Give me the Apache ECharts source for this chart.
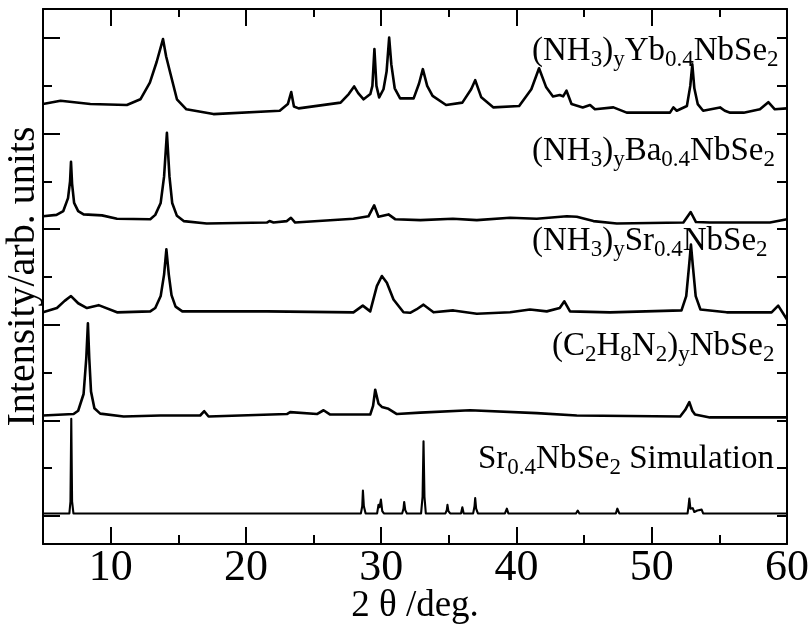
<!DOCTYPE html>
<html>
<head>
<meta charset="utf-8">
<script src="https://cdn.jsdelivr.net/npm/echarts@6/dist/echarts.min.js"></script>
<style>
  html, body { margin: 0; padding: 0; background: #fff; }
  #chart { width: 811px; height: 624px; }
</style>
</head>
<body>
<div id="chart"></div>
<script>
// patterns, [2theta, offset intensity]
const ybData = [[5.0, 8.62], [6.3, 8.69], [8.5, 8.62], [11.2, 8.6], [12.2, 8.72], [12.9, 9.07], [13.4, 9.5], [13.87, 9.98], [14.1, 9.62], [14.4, 9.28], [14.9, 8.72], [15.6, 8.51], [17.6, 8.41], [22.5, 8.48], [23.1, 8.62], [23.35, 8.87], [23.55, 8.57], [23.9, 8.53], [27.0, 8.65], [27.6, 8.83], [28.0, 8.99], [28.3, 8.85], [28.7, 8.72], [29.2, 8.83], [29.35, 9.0], [29.5, 9.77], [29.65, 9.0], [29.85, 8.76], [30.17, 8.93], [30.4, 9.3], [30.59, 10.01], [30.75, 9.45], [31.0, 8.95], [31.4, 8.74], [32.4, 8.74], [32.8, 9.05], [33.08, 9.35], [33.4, 9.0], [33.8, 8.79], [34.8, 8.6], [36.0, 8.65], [36.65, 8.93], [36.95, 9.12], [37.4, 8.76], [38.3, 8.55], [40.2, 8.58], [41.1, 8.93], [41.67, 9.37], [42.2, 8.97], [42.7, 8.78], [43.2, 8.81], [43.45, 8.78], [43.7, 8.9], [44.07, 8.62], [44.9, 8.55], [45.44, 8.6], [45.8, 8.51], [47.17, 8.55], [48.15, 8.44], [51.35, 8.44], [51.6, 8.55], [51.85, 8.48], [52.6, 8.58], [52.85, 9.0], [53.0, 9.45], [53.15, 8.95], [53.4, 8.62], [53.8, 8.48], [55.05, 8.55], [55.4, 8.48], [55.8, 8.44], [56.8, 8.44], [58.0, 8.51], [58.62, 8.66], [59.1, 8.51], [60.0, 8.53]];
const baData = [[5.0, 6.27], [6.0, 6.3], [6.5, 6.38], [6.85, 6.65], [7.0, 7.0], [7.07, 7.41], [7.15, 6.95], [7.3, 6.55], [7.6, 6.38], [8.0, 6.31], [9.36, 6.29], [10.47, 6.22], [12.93, 6.21], [13.3, 6.3], [13.7, 6.55], [13.95, 7.1], [14.16, 8.02], [14.35, 7.1], [14.55, 6.55], [14.9, 6.28], [15.4, 6.17], [17.1, 6.12], [21.55, 6.14], [21.74, 6.17], [22.04, 6.14], [23.03, 6.17], [23.33, 6.24], [23.64, 6.14], [27.95, 6.22], [29.06, 6.27], [29.48, 6.5], [29.8, 6.26], [30.54, 6.31], [31.03, 6.21], [32.9, 6.19], [35.3, 6.22], [37.07, 6.19], [39.53, 6.24], [41.5, 6.22], [43.72, 6.27], [44.46, 6.26], [45.69, 6.17], [47.42, 6.12], [52.34, 6.14], [52.88, 6.36], [53.27, 6.15], [54.3, 6.14], [58.74, 6.14], [60.0, 6.21]];
const srData = [[5.0, 4.26], [6.03, 4.35], [6.6, 4.5], [7.07, 4.6], [7.6, 4.45], [8.25, 4.35], [9.11, 4.41], [10.47, 4.26], [12.93, 4.28], [13.3, 4.35], [13.7, 4.6], [13.95, 5.05], [14.12, 5.58], [14.3, 5.05], [14.5, 4.62], [14.8, 4.38], [15.3, 4.28], [21.55, 4.28], [27.95, 4.26], [28.64, 4.40], [29.19, 4.28], [29.68, 4.81], [30.05, 5.02], [30.42, 4.88], [30.91, 4.53], [31.65, 4.26], [32.14, 4.25], [32.6, 4.32], [33.13, 4.42], [33.87, 4.26], [35.34, 4.3], [37.07, 4.23], [39.53, 4.26], [41.0, 4.32], [42.24, 4.28], [43.2, 4.35], [43.54, 4.49], [43.96, 4.28], [46.91, 4.26], [52.2, 4.3], [52.55, 4.6], [52.75, 5.2], [52.9, 5.68], [53.05, 5.2], [53.25, 4.6], [53.6, 4.32], [55.54, 4.26], [58.86, 4.26], [59.35, 4.40], [60.0, 4.11]];
const enData = [[5.0, 2.10], [7.26, 2.13], [7.6, 2.2], [8.0, 2.55], [8.2, 3.3], [8.32, 4.03], [8.42, 3.3], [8.55, 2.6], [8.8, 2.25], [9.23, 2.14], [10.96, 2.08], [13.67, 2.10], [16.62, 2.10], [16.92, 2.19], [17.24, 2.08], [23.03, 2.13], [23.27, 2.17], [25.25, 2.13], [25.74, 2.21], [26.23, 2.12], [29.19, 2.12], [29.4, 2.3], [29.56, 2.64], [29.8, 2.35], [30.05, 2.28], [30.54, 2.24], [31.16, 2.13], [32.88, 2.16], [36.57, 2.21], [41.5, 2.15], [44.46, 2.10], [52.1, 2.08], [52.48, 2.22], [52.78, 2.38], [53.0, 2.2], [53.2, 2.12], [54.3, 2.06], [60.0, 2.06]];
const simData = [[5.0, 0.05], [6.95, 0.05], [7.03, 0.3], [7.09, 2.03], [7.15, 0.3], [7.25, 0.05], [21.35, 0.05], [21.43, 0.09], [21.5, 0.05], [28.5, 0.05], [28.6, 0.2], [28.65, 0.53], [28.72, 0.2], [28.85, 0.05], [29.7, 0.05], [29.8, 0.23], [29.88, 0.18], [29.98, 0.34], [30.08, 0.1], [30.2, 0.05], [31.55, 0.05], [31.65, 0.15], [31.7, 0.29], [31.78, 0.12], [31.9, 0.05], [32.95, 0.05], [33.06, 0.4], [33.13, 1.56], [33.2, 0.4], [33.3, 0.05], [34.75, 0.05], [34.85, 0.12], [34.9, 0.23], [34.97, 0.1], [35.1, 0.05], [35.9, 0.05], [36.0, 0.18], [36.1, 0.05], [36.8, 0.05], [36.9, 0.2], [36.95, 0.37], [37.02, 0.15], [37.15, 0.05], [39.15, 0.05], [39.29, 0.15], [39.4, 0.05], [41.7, 0.05], [41.8, 0.08], [41.9, 0.05], [44.4, 0.05], [44.53, 0.11], [44.65, 0.05], [47.35, 0.05], [47.46, 0.15], [47.6, 0.05], [50.4, 0.05], [50.49, 0.09], [50.6, 0.05], [52.65, 0.05], [52.72, 0.2], [52.78, 0.36], [52.86, 0.15], [53.03, 0.16], [53.15, 0.08], [53.37, 0.11], [53.5, 0.08], [53.69, 0.13], [53.8, 0.05], [56.9, 0.05], [57.02, 0.08], [57.15, 0.05], [60.0, 0.05]];

const xMajor = [10, 20, 30, 40, 50, 60];
const xMinor = [15, 25, 35, 45, 55];
const yMajor = [0, 2, 4, 6, 8, 10];
const yMinor = [1, 3, 5, 7, 9];
const yAll = [0, 1, 2, 3, 4, 5, 6, 7, 8, 9, 10];

const FONT = 'Liberation Serif, Times New Roman, serif';
const X_MIN = 5, X_MAX = 60, Y_MIN = -0.59, Y_MAX = 10.61;

const chart = echarts.init(document.getElementById('chart'), null, { renderer: 'canvas' });

function xAx(pos, ticks, len, showLine, label) {
  return {
    type: 'value', position: pos, min: X_MIN, max: X_MAX,
    axisLine: { show: showLine, onZero: false, lineStyle: { color: '#000', width: 2 } },
    axisTick: { show: true, inside: true, length: len, customValues: ticks, lineStyle: { color: '#000', width: 2 } },
    axisLabel: label ? { show: true, customValues: ticks, color: '#000', fontSize: 44, fontFamily: FONT, margin: 2 } : { show: false },
    splitLine: { show: false }
  };
}
function yAx(pos, ticks, len, showLine) {
  return {
    type: 'value', position: pos, min: Y_MIN, max: Y_MAX,
    axisLine: { show: showLine, onZero: false, lineStyle: { color: '#000', width: 2 } },
    axisTick: { show: true, inside: true, length: len, customValues: ticks, lineStyle: { color: '#000', width: 2 } },
    axisLabel: { show: false },
    splitLine: { show: false }
  };
}

const xBottom = xAx('bottom', xMajor, 17, true, true);
xBottom.name = '2 θ /deg.';
xBottom.nameLocation = 'middle';
xBottom.nameGap = 44;
xBottom.nameMoveOverlap = false;
xBottom.nameTextStyle = { color: '#000', fontSize: 37, fontFamily: FONT };

const yLeft = yAx('left', yMajor, 17, true);
yLeft.name = 'Intensity/arb. units';
yLeft.nameLocation = 'middle';
yLeft.nameGap = 0;
yLeft.nameMoveOverlap = false;
yLeft.nameTextStyle = { color: '#000', fontSize: 40, fontFamily: FONT };

function line(data, w) {
  return {
    type: 'line', data: data, xAxisIndex: 0, yAxisIndex: 0,
    showSymbol: false, symbol: 'none', smooth: false,
    lineStyle: { color: '#000', width: w, join: 'round' }, silent: true
  };
}

const rich = {
  m: { fontSize: 33, lineHeight: 33, fontFamily: FONT, fill: '#000', verticalAlign: 'top' },
  s: { fontSize: 23, lineHeight: 23, fontFamily: FONT, fill: '#000', verticalAlign: 'top', padding: [14, 0, 0, 0] }
};
function label(x, baseline, text) {
  return { type: 'text', x: x, y: baseline - 27.6, style: { text: text, rich: rich, fill: '#000', align: 'left', verticalAlign: 'top' } };
}

chart.setOption({
  animation: false,
  backgroundColor: '#fff',
  grid: { left: 43, right: 24, top: 9, bottom: 80, containLabel: false, outerBoundsMode: 'none' },
  xAxis: [xBottom, xAx('bottom', xMinor, 9, false, false), xAx('top', xMajor, 17, true, false), xAx('top', xMinor, 8, false, false)],
  yAxis: [yLeft, yAx('left', yMinor, 9, false), yAx('right', yAll, 10, true)],
  series: [line(ybData, 2.6), line(baData, 2.6), line(srData, 2.6), line(enData, 2.6), line(simData, 2.1)],
  graphic: [
    label(532, 62, '{m|(NH}{s|3}{m|)}{s|y}{m|Yb}{s|0.4}{m|NbSe}{s|2}'),
    label(532, 162, '{m|(NH}{s|3}{m|)}{s|y}{m|Ba}{s|0.4}{m|NbSe}{s|2}'),
    label(532, 252, '{m|(NH}{s|3}{m|)}{s|y}{m|Sr}{s|0.4}{m|NbSe}{s|2}'),
    label(552, 357, '{m|(C}{s|2}{m|H}{s|8}{m|N}{s|2}{m|)}{s|y}{m|NbSe}{s|2}'),
    label(478, 470, '{m|Sr}{s|0.4}{m|NbSe}{s|2}{m| Simulation}')
  ]
});
</script>
</body>
</html>
